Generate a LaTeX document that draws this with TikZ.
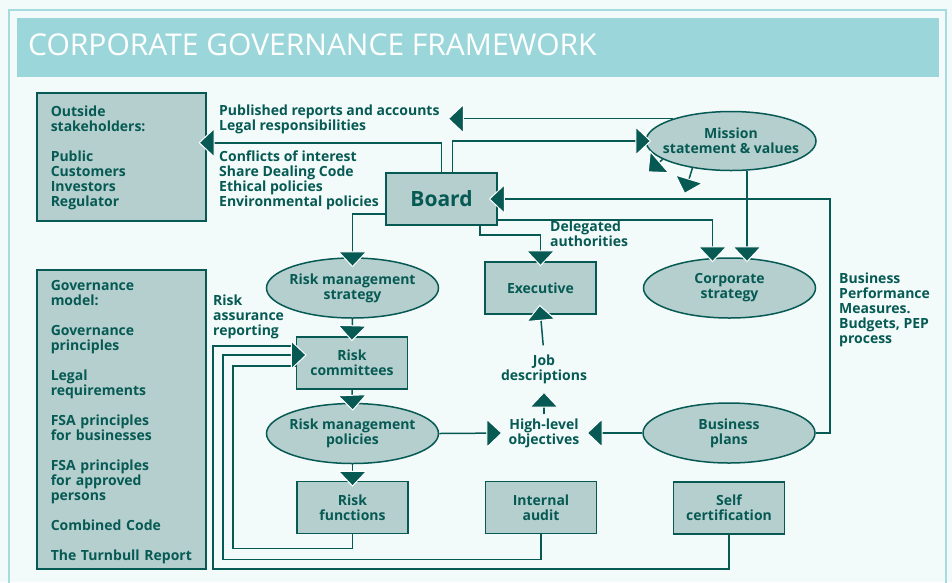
\documentclass[tikz,border=0pt]{standalone}
\usepackage{fontspec}
\setmainfont{Open Sans}
\usetikzlibrary{arrows.meta, shapes.geometric, positioning}
\definecolor{govbg}{HTML}{F2FAFA}
\definecolor{govframe}{HTML}{A5DCDF}
\definecolor{govhead}{HTML}{9BD7DA}
\definecolor{govbox}{HTML}{B5CFCF}
\definecolor{govdark}{HTML}{065A53}
\newcommand{\govfont}{\fontsize{14pt}{15pt}\selectfont\bfseries}

\begin{document}
\begin{tikzpicture}[x=1pt, y=-1pt]
\tikzstyle{box}=[rectangle, draw=govdark, fill=govbox, line width=1.5pt, text=govdark, font=\govfont, align=center, inner sep=0pt, minimum width=111pt, minimum height=52pt]
\tikzstyle{oval}=[ellipse, draw=govdark, fill=govbox, line width=1.5pt, text=govdark, font=\govfont, align=center, inner xsep=-30pt, inner ysep=0pt, minimum width=172pt, minimum height=60pt]
\tikzstyle{panel}=[rectangle, draw=govdark, fill=govbox, line width=1.5pt, text=govdark, font=\govfont, align=left, text width=141pt, inner xsep=14pt, inner ysep=0pt, anchor=north west]
\tikzstyle{lbl}=[text=govdark, font=\govfont, align=left, inner sep=0pt, anchor=north west]
\tikzstyle{txt}=[text=govdark, font=\govfont, align=center, inner sep=0pt]
\tikzstyle{link}=[draw=govdark, line width=1.5pt]
\tikzstyle{arr}=[link, -{Triangle[width=30pt, length=16pt, color=white, fill=govdark, line width=1pt]}]

% frame and title
\useasboundingbox (0,0) rectangle (952,582);
\fill[govbg] (0,0) rectangle (952,582);
\draw[govframe, line width=2.5pt] (9,590) -- (9,10) -- (946,10) -- (946,590);
\fill[govhead] (17,18) rectangle (939,77);
\node[anchor=base west, text=white, font=\fontsize{30pt}{32pt}\selectfont, inner sep=0pt] (title) at (28,55) {CORPORATE GOVERNANCE FRAMEWORK};

% side panels
\node[panel, minimum height=128pt] (stake) at (36,92) {\rule{0pt}{13pt}Outside\\stakeholders:\\[15pt]Public\\Customers\\Investors\\Regulator};
\node[panel, minimum height=299pt] (gov) at (36,269) {\rule{0pt}{16pt}Governance\\model:\\[15pt]Governance\\principles\\[15pt]Legal\\requirements\\[15pt]FSA principles\\for businesses\\[15pt]FSA principles\\for approved\\persons\\[15pt]Combined Code\\[15pt]\mbox{The Turnbull Report}};

% main nodes
\node[box, font=\fontsize{21pt}{24pt}\selectfont\bfseries] (board) at (441.5,199) {Board};
\node[oval, minimum width=170pt, minimum height=59pt] (mission) at (731,141) {Mission\\statement \& values};
\node[oval] (corp) at (729.5,288) {Corporate\\strategy};
\node[oval] (rms) at (352.5,288) {Risk management\\strategy};
\node[box] (exec) at (540.5,288) {Executive};
\node[box] (comm) at (352,363) {Risk\\committees};
\node[oval] (rmp) at (352.5,433.5) {Risk management\\policies};
\node[box] (func) at (352.5,507.5) {Risk\\functions};
\node[box] (audit) at (541,507.5) {Internal\\audit};
\node[box] (selfc) at (729,508) {Self\\certification};
\node[oval] (plans) at (729,433) {Business\\plans};
\node[txt] (hlo) at (544,433) {High-level\\objectives};
\node[txt] (jobs) at (544,369) {Job\\descriptions};

% labels
\node[lbl] (pubrep) at (219,105) {Published reports and accounts\\Legal responsibilities};
\node[lbl] (conflicts) at (219,151) {Conflicts of interest\\Share Dealing Code\\Ethical policies\\Environmental policies};
\node[lbl] (delegated) at (550,221) {Delegated\\authorities};
\node[lbl] (assurance) at (213,295) {Risk\\assurance\\reporting};
\node[lbl] (measures) at (839,273) {Business\\Performance\\Measures.\\Budgets, PEP\\process};

% connectors
\draw[arr, shorten >=-8pt] (board.north) |- ([yshift=14pt]stake.east);
\draw[arr, shorten >=-6pt] ([xshift=11pt]board.north) |- (mission.west);
\draw[arr, shorten >=8pt] (mission.159) -- (mission.159 -| pubrep.east);
\draw[arr] (mission.195) -- ++(-15,13);
\draw[arr] (mission.215) -- ++(-8,26);
\draw[arr, shorten >=-9pt] (plans.east) -- ++(14,0) |- (board.east);
\draw[arr, shorten >=-5pt] ([xshift=38.5pt]board.south) -- ++(0,9) -| (exec.north);
\draw[arr, shorten >=-5pt] ([yshift=-21pt]board.east) -| ([xshift=-17pt]corp.north);
\draw[arr, shorten >=-5pt] ([xshift=16pt]mission.south) -- ([xshift=16pt]mission.south |- corp.north);
\draw[arr, shorten >=-10pt] ([yshift=-15pt]board.west) -| (rms.north);
\draw[arr, shorten >=-5pt] (rms.south) -- (comm.north);
\draw[arr, shorten >=-8pt] (comm.south) -- (rmp.north);
\draw[arr, shorten >=-6pt] (rmp.south) -- (func.north);
\draw[arr, shorten >=6pt] (rmp.east) -- (hlo.west);
\draw[arr, shorten >=7pt] (plans.west) -- (hlo.east);
\draw[arr, shorten <=4pt, shorten >=8pt] (hlo.north) -- (jobs.south);
\draw[arr, shorten <=9pt, shorten >=-10pt] (jobs.north) -- (exec.south);

% risk assurance reporting
\draw[link] (func.south) -- ++(0,14) -| ([xshift=-63pt, yshift=-3pt]comm.west) -- ([yshift=-3pt]comm.west);
\draw[link] (selfc.south) -- ++(0,34) -| ([xshift=-83pt, yshift=17pt]comm.west) -- ([yshift=17pt]comm.west);
\draw[arr, shorten >=-11pt] (audit.south) -- ++(0,25) -| ([xshift=-73pt, yshift=8pt]comm.west) -- ([yshift=8pt]comm.west);
\end{tikzpicture}
\end{document}
